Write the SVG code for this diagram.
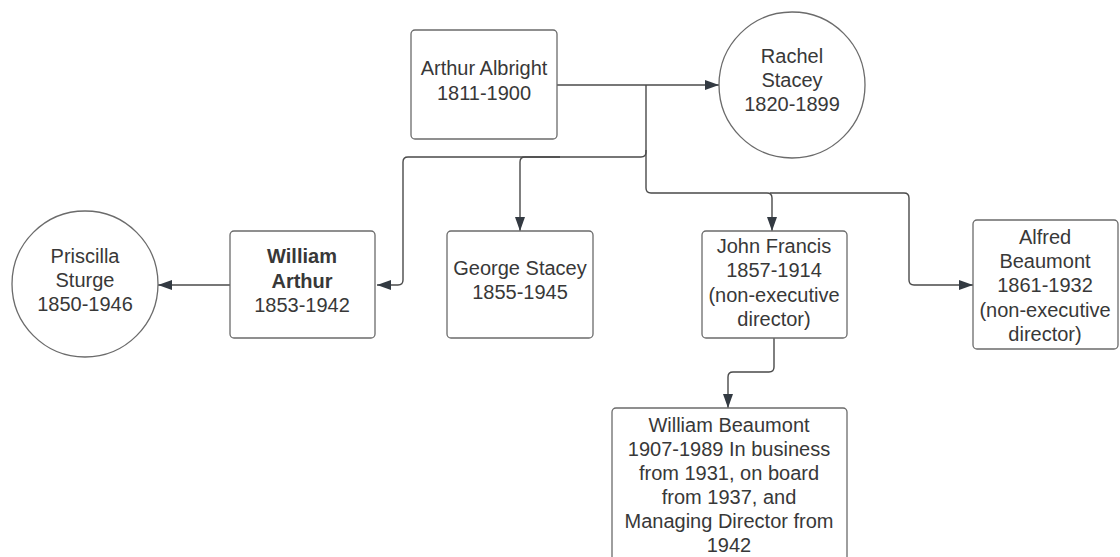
<svg xmlns="http://www.w3.org/2000/svg" width="1120" height="557" viewBox="0 0 1120 557">
<style>
.box{fill:#fff;stroke:#6b6b6b;stroke-width:1.3}
.t{font-family:"Liberation Sans",Arial,sans-serif;font-size:20px;fill:#383838;text-anchor:middle}
.b{font-weight:bold}
.c{fill:none;stroke:#4a4a4a;stroke-width:1.4}
</style>
<defs>
<marker id="ah" markerUnits="userSpaceOnUse" markerWidth="15" markerHeight="11" refX="14" refY="5" orient="auto">
<path d="M0,0 L14,5 L0,10 z" fill="#333a42"/>
</marker>
</defs>
<rect width="1120" height="557" fill="#fff"/>
<g id="connectors">
<path class="c" d="M557,85 H719" marker-end="url(#ah)"/>
<path class="c" d="M646,85 V152 Q646,157 641,157 H408 Q403,157 403,162 V280 Q403,285 398,285 H377" marker-end="url(#ah)"/>
<path class="c" d="M560,157 H525 Q520,157 520,162 V231" marker-end="url(#ah)"/>
<path class="c" d="M646,150 V188 Q646,193 651,193 H767 Q772,193 772,198 V231" marker-end="url(#ah)"/>
<path class="c" d="M770,193 H904 Q909,193 909,198 V280 Q909,285 914,285 H973" marker-end="url(#ah)"/>
<path class="c" d="M774,338 V367 Q774,372 769,372 H733 Q728,372 728,377 V408" marker-end="url(#ah)"/>
<path class="c" d="M230,285 H158" marker-end="url(#ah)"/>
</g>
<g id="arthur-albright">
<rect class="box" x="411" y="30" width="146" height="109" rx="4"/>
<text class="t" x="484" y="75">Arthur Albright</text>
<text class="t" x="484" y="100">1811-1900</text>
</g>
<g id="rachel-stacey">
<circle class="box" cx="792" cy="85" r="73"/>
<text class="t" x="792" y="63">Rachel</text>
<text class="t" x="792" y="87">Stacey</text>
<text class="t" x="792" y="111">1820-1899</text>
</g>
<g id="priscilla-sturge">
<circle class="box" cx="85" cy="284" r="73"/>
<text class="t" x="85" y="263">Priscilla</text>
<text class="t" x="85" y="287">Sturge</text>
<text class="t" x="85" y="311">1850-1946</text>
</g>
<g id="william-arthur">
<rect class="box" x="230" y="231" width="145" height="107" rx="4"/>
<text class="t b" x="302" y="263">William</text>
<text class="t b" x="302" y="288">Arthur</text>
<text class="t" x="302" y="312">1853-1942</text>
</g>
<g id="george-stacey">
<rect class="box" x="447" y="231" width="146" height="107" rx="4"/>
<text class="t" x="520" y="275">George Stacey</text>
<text class="t" x="520" y="299">1855-1945</text>
</g>
<g id="john-francis">
<rect class="box" x="702" y="231" width="145" height="107" rx="4"/>
<text class="t" x="774" y="253">John Francis</text>
<text class="t" x="774" y="277">1857-1914</text>
<text class="t" x="774" y="302">(non-executive</text>
<text class="t" x="774" y="326">director)</text>
</g>
<g id="alfred-beaumont">
<rect class="box" x="973" y="220" width="145" height="129" rx="4"/>
<text class="t" x="1045" y="244">Alfred</text>
<text class="t" x="1045" y="268">Beaumont</text>
<text class="t" x="1045" y="292">1861-1932</text>
<text class="t" x="1045" y="317">(non-executive</text>
<text class="t" x="1045" y="341">director)</text>
</g>
<g id="william-beaumont">
<rect class="box" x="612" y="408" width="235" height="170" rx="4"/>
<text class="t" x="729" y="432">William Beaumont</text>
<text class="t" x="729" y="456">1907-1989 In business</text>
<text class="t" x="729" y="480">from 1931, on board</text>
<text class="t" x="729" y="504">from 1937, and</text>
<text class="t" x="729" y="528">Managing Director from</text>
<text class="t" x="729" y="552">1942</text>
</g>
</svg>
